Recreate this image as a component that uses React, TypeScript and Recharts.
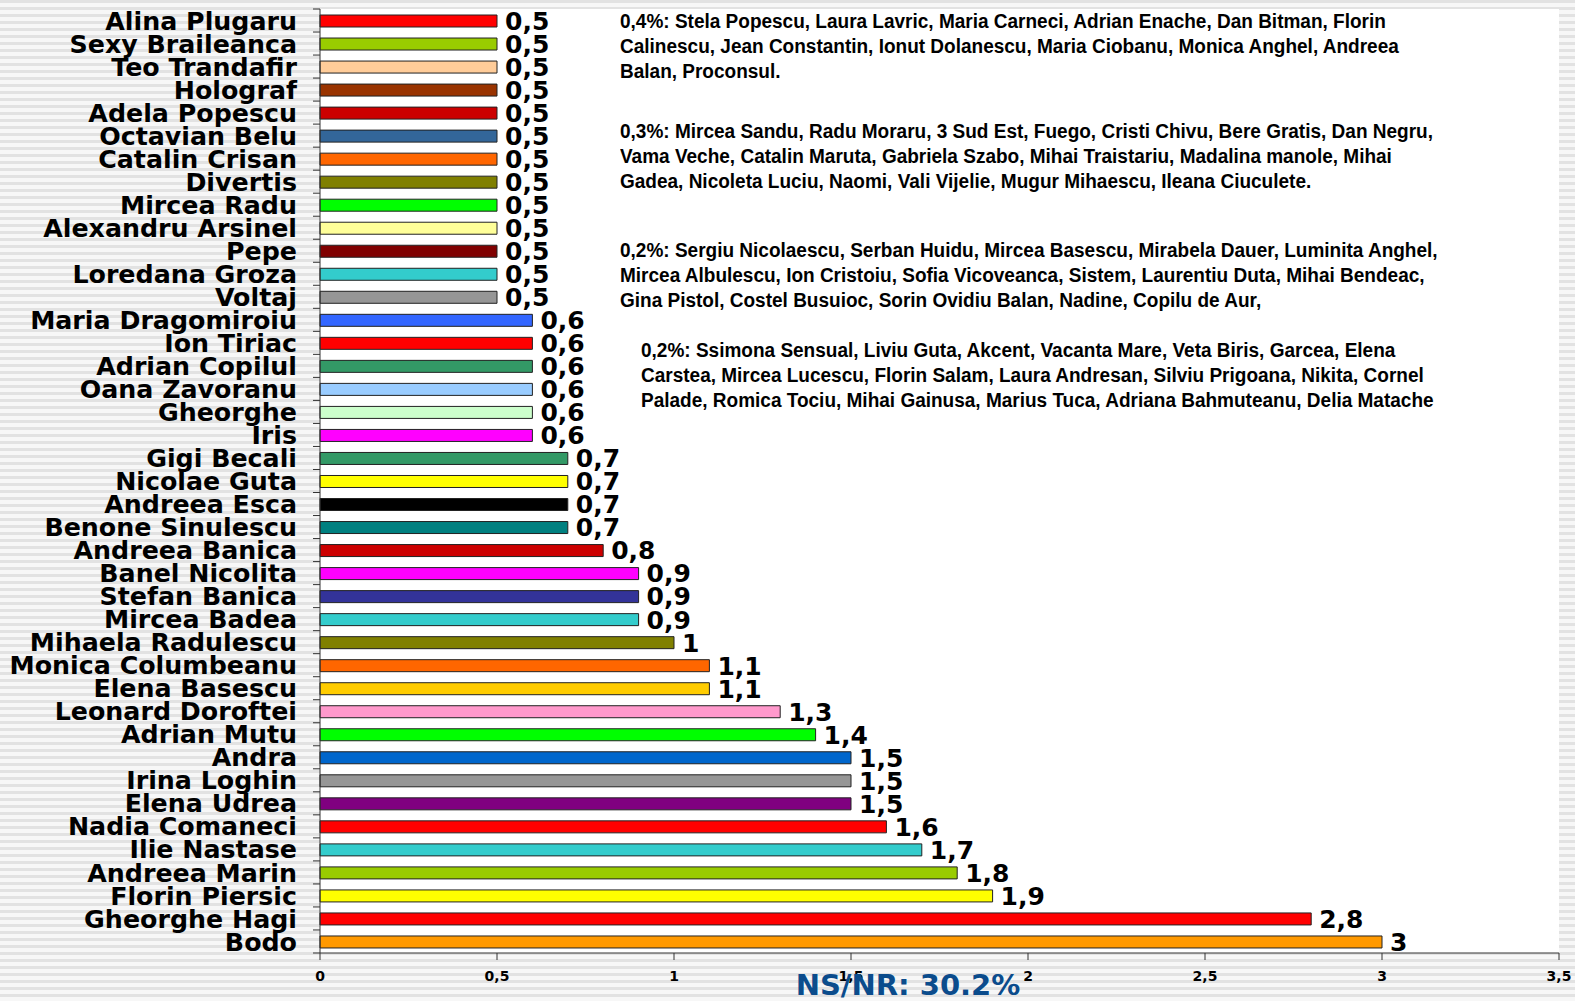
import React from 'react';
import { BarChart, Bar, XAxis, YAxis, CartesianGrid, Cell, LabelList } from 'recharts';

const names = [
  'Alina Plugaru', 'Sexy Braileanca', 'Teo Trandafir', 'Holograf', 'Adela Popescu',
  'Octavian Belu', 'Catalin Crisan', 'Divertis', 'Mircea Radu', 'Alexandru Arsinel',
  'Pepe', 'Loredana Groza', 'Voltaj', 'Maria Dragomiroiu', 'Ion Tiriac',
  'Adrian Copilul', 'Oana Zavoranu', 'Gheorghe', 'Iris', 'Gigi Becali',
  'Nicolae Guta', 'Andreea Esca', 'Benone Sinulescu', 'Andreea Banica', 'Banel Nicolita',
  'Stefan Banica', 'Mircea Badea', 'Mihaela Radulescu', 'Monica Columbeanu', 'Elena Basescu',
  'Leonard Doroftei', 'Adrian Mutu', 'Andra', 'Irina Loghin', 'Elena Udrea',
  'Nadia Comaneci', 'Ilie Nastase', 'Andreea Marin', 'Florin Piersic', 'Gheorghe Hagi',
  'Bodo',
];

const values = [
  0.5, 0.5, 0.5, 0.5, 0.5,
  0.5, 0.5, 0.5, 0.5, 0.5,
  0.5, 0.5, 0.5, 0.6, 0.6,
  0.6, 0.6, 0.6, 0.6, 0.7,
  0.7, 0.7, 0.7, 0.8, 0.9,
  0.9, 0.9, 1, 1.1, 1.1,
  1.3, 1.4, 1.5, 1.5, 1.5,
  1.6, 1.7, 1.8, 1.9, 2.8,
  3,
];

const colors = [
  '#ff0000', '#99cc00', '#ffcc99', '#993300', '#cc0000',
  '#336699', '#ff6600', '#808000', '#00ff00', '#ffff99',
  '#800000', '#33cccc', '#969696', '#3366ff', '#ff0000',
  '#339966', '#99ccff', '#ccffcc', '#ff00ff', '#339966',
  '#ffff00', '#000000', '#008080', '#cc0000', '#ff00ff',
  '#333399', '#33cccc', '#808000', '#ff6600', '#ffcc00',
  '#ff99cc', '#00ff00', '#0066cc', '#969696', '#800080',
  '#ff0000', '#33cccc', '#99cc00', '#ffff00', '#ff0000',
  '#ff9900',
];

const xTicks = [0, 0.5, 1, 1.5, 2, 2.5, 3, 3.5];

const notes04 = [
  '0,4%: Stela Popescu, Laura Lavric, Maria Carneci, Adrian Enache, Dan Bitman, Florin',
  'Calinescu, Jean Constantin, Ionut Dolanescu, Maria Ciobanu, Monica Anghel, Andreea',
  'Balan, Proconsul.',
];
const notes03 = [
  '0,3%: Mircea Sandu, Radu Moraru, 3 Sud Est, Fuego, Cristi Chivu, Bere Gratis, Dan Negru,',
  'Vama Veche, Catalin Maruta, Gabriela Szabo, Mihai Traistariu, Madalina manole, Mihai',
  'Gadea, Nicoleta Luciu, Naomi, Vali Vijelie, Mugur Mihaescu, Ileana Ciuculete.',
];
const notes02a = [
  '0,2%: Sergiu Nicolaescu, Serban Huidu, Mircea Basescu, Mirabela Dauer, Luminita Anghel,',
  'Mircea Albulescu, Ion Cristoiu, Sofia Vicoveanca, Sistem, Laurentiu Duta, Mihai Bendeac,',
  'Gina Pistol, Costel Busuioc, Sorin Ovidiu Balan, Nadine, Copilu de Aur,',
];
const notes02b = [
  '0,2%: Ssimona Sensual, Liviu Guta, Akcent, Vacanta Mare, Veta Biris, Garcea, Elena',
  'Carstea, Mircea Lucescu, Florin Salam, Laura Andresan, Silviu Prigoana, Nikita, Cornel',
  'Palade, Romica Tociu, Mihai Gainusa, Marius Tuca, Adriana Bahmuteanu, Delia Matache',
];

const data = names.map((name, i) => ({ name, value: values[i], color: colors[i] }));

const W = 1575;
const H = 1001;
const TOP = 9;
const Y_W = 320;
const X_H = 48;
const ROW = (H - TOP - X_H) / names.length;
const BIG_FONT = "'DejaVu Sans', Verdana, sans-serif";
const NOTE_FONT = "'Liberation Sans Narrow', 'Arial Narrow', 'Liberation Sans', Arial, sans-serif";

const comma = (v: number | string) => String(v).replace('.', ',');

// category labels plus the small tick marks that sit between rows
const CategoryTick = (props: any) => {
  const { x, y, payload, index } = props;
  const half = payload && payload.offset ? payload.offset : ROW / 2;
  const ax = Y_W;
  return (
    <g>
      <line x1={ax - 7} x2={ax} y1={y - half} y2={y - half} stroke="#333" />
      {index === names.length - 1 && (
        <line x1={ax - 7} x2={ax} y1={y + half} y2={y + half} stroke="#333" />
      )}
      <text x={x} y={y} dy="0.36em" textAnchor="end" fontFamily={BIG_FONT} fontWeight="bold" fontSize={25.3} fill="#000">
        {payload.value}
      </text>
    </g>
  );
};

const NoteBlock = ({ lines, left, top }: { lines: string[]; left: number; top: number }) => (
  <div
    style={{
      position: 'absolute',
      left,
      top,
      fontFamily: NOTE_FONT,
      fontWeight: 'bold',
      fontSize: 20,
      lineHeight: '25px',
      color: '#000',
      whiteSpace: 'pre',
      transform: 'scaleX(0.95)',
      transformOrigin: 'left top',
    }}
  >
    {lines.map((l) => (
      <div key={l}>{l}</div>
    ))}
  </div>
);

export default function App() {
  return (
    <div
      style={{
        position: 'absolute',
        left: 0,
        top: 0,
        width: W,
        height: H,
        overflow: 'hidden',
        background: 'repeating-linear-gradient(to bottom, #e2e2e2 0px, #e2e2e2 3px, #f7f7f7 3px, #f7f7f7 7px)',
      }}
    >
      <BarChart width={W} height={H} data={data} layout="vertical" margin={{ top: TOP, right: 16, bottom: 0, left: 0 }}>
        <CartesianGrid fill="#ffffff" horizontal={false} vertical={false} />
        <XAxis
          type="number"
          domain={[0, 3.5]}
          ticks={xTicks}
          interval={0}
          height={X_H}
          tickSize={7}
          tickMargin={11}
          tickFormatter={comma}
          stroke="#333"
          tick={{ fontFamily: BIG_FONT, fontWeight: 'bold', fontSize: 14, fill: '#000' }}
        />
        <YAxis
          type="category"
          dataKey="name"
          width={Y_W}
          interval={0}
          tickSize={7}
          tickMargin={16}
          tickLine={false}
          stroke="#333"
          tick={<CategoryTick />}
        />
        <Bar dataKey="value" barSize={12} stroke="#222" strokeWidth={1} isAnimationActive={false}>
          {data.map((d, i) => (
            <Cell key={`cell-${i}`} fill={d.color} />
          ))}
          <LabelList
            dataKey="value"
            position="right"
            offset={8}
            formatter={comma}
            style={{ fontFamily: BIG_FONT, fontWeight: 'bold', fontSize: 25, fill: '#000' }}
          />
        </Bar>
      </BarChart>
      <NoteBlock lines={notes04} left={620} top={8.5} />
      <NoteBlock lines={notes03} left={620} top={118.5} />
      <NoteBlock lines={notes02a} left={620} top={237.5} />
      <NoteBlock lines={notes02b} left={641} top={337.5} />
      <div
        style={{
          position: 'absolute',
          left: 908,
          top: 985,
          transform: 'translate(-50%, -50%)',
          fontFamily: BIG_FONT,
          fontWeight: 'bold',
          fontSize: 29,
          lineHeight: '29px',
          color: '#0b4c8c',
          whiteSpace: 'nowrap',
        }}
      >
        NS/NR: 30.2%
      </div>
    </div>
  );
}
